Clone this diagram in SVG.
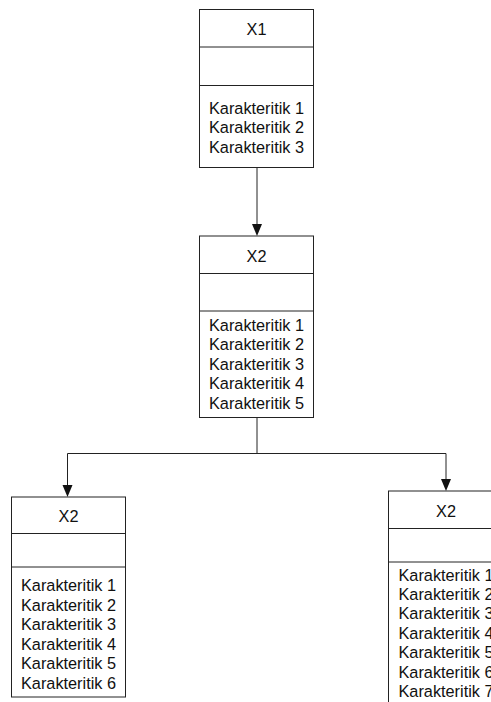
<svg xmlns="http://www.w3.org/2000/svg" width="491" height="702" viewBox="0 0 491 702">
<style>
.box{fill:#fff;stroke:#222;stroke-width:1}
.ln{stroke:#222;stroke-width:1;fill:none}
.ah{fill:#111}
text{font-family:"Liberation Sans",Arial,sans-serif;font-size:16.3px;fill:#111;text-anchor:middle}
</style>
<g id="connectors">
<path class="ln" d="M257,167.5 V225"/>
<path class="ah" d="M252,224 L262,224 L257,236 Z"/>
<path class="ln" d="M257,417.5 V453.5 H67.5 V486"/>
<path class="ln" d="M257,453.5 H446 V480"/>
<path class="ah" d="M62.5,485 L72.5,485 L67.5,497 Z"/>
<path class="ah" d="M441,479 L451,479 L446,491 Z"/>
</g>
<g id="x1">
<rect class="box" x="199.5" y="9.5" width="114" height="158"/>
<line class="ln" x1="199.5" y1="47" x2="313.5" y2="47"/>
<line class="ln" x1="199.5" y1="85.5" x2="313.5" y2="85.5"/>
<text x="256.5" y="35">X1</text>
<text x="256.5" y="114">Karakteritik 1</text>
<text x="256.5" y="133.3">Karakteritik 2</text>
<text x="256.5" y="152.5">Karakteritik 3</text>
</g>
<g id="x2-mid">
<rect class="box" x="199.5" y="236" width="114" height="181.5"/>
<line class="ln" x1="199.5" y1="273.5" x2="313.5" y2="273.5"/>
<line class="ln" x1="199.5" y1="311" x2="313.5" y2="311"/>
<text x="256.5" y="261.5">X2</text>
<text x="256.5" y="330.8">Karakteritik 1</text>
<text x="256.5" y="350.3">Karakteritik 2</text>
<text x="256.5" y="369.8">Karakteritik 3</text>
<text x="256.5" y="389.3">Karakteritik 4</text>
<text x="256.5" y="408.8">Karakteritik 5</text>
</g>
<g id="x2-left">
<rect class="box" x="11.5" y="497" width="114" height="200"/>
<line class="ln" x1="11.5" y1="533.5" x2="125.5" y2="533.5"/>
<line class="ln" x1="11.5" y1="567" x2="125.5" y2="567"/>
<text x="68.5" y="522">X2</text>
<text x="68.5" y="591.2">Karakteritik 1</text>
<text x="68.5" y="610.7">Karakteritik 2</text>
<text x="68.5" y="630.2">Karakteritik 3</text>
<text x="68.5" y="649.7">Karakteritik 4</text>
<text x="68.5" y="669.2">Karakteritik 5</text>
<text x="68.5" y="688.7">Karakteritik 6</text>
</g>
<g id="x2-right">
<rect class="box" x="388.5" y="491" width="116" height="220"/>
<line class="ln" x1="388.5" y1="528.5" x2="504.5" y2="528.5"/>
<line class="ln" x1="388.5" y1="562" x2="504.5" y2="562"/>
<text x="446" y="517">X2</text>
<text x="446" y="580.5">Karakteritik 1</text>
<text x="446" y="600">Karakteritik 2</text>
<text x="446" y="619.4">Karakteritik 3</text>
<text x="446" y="638.8">Karakteritik 4</text>
<text x="446" y="658.2">Karakteritik 5</text>
<text x="446" y="677.6">Karakteritik 6</text>
<text x="446" y="697">Karakteritik 7</text>
</g>
</svg>
